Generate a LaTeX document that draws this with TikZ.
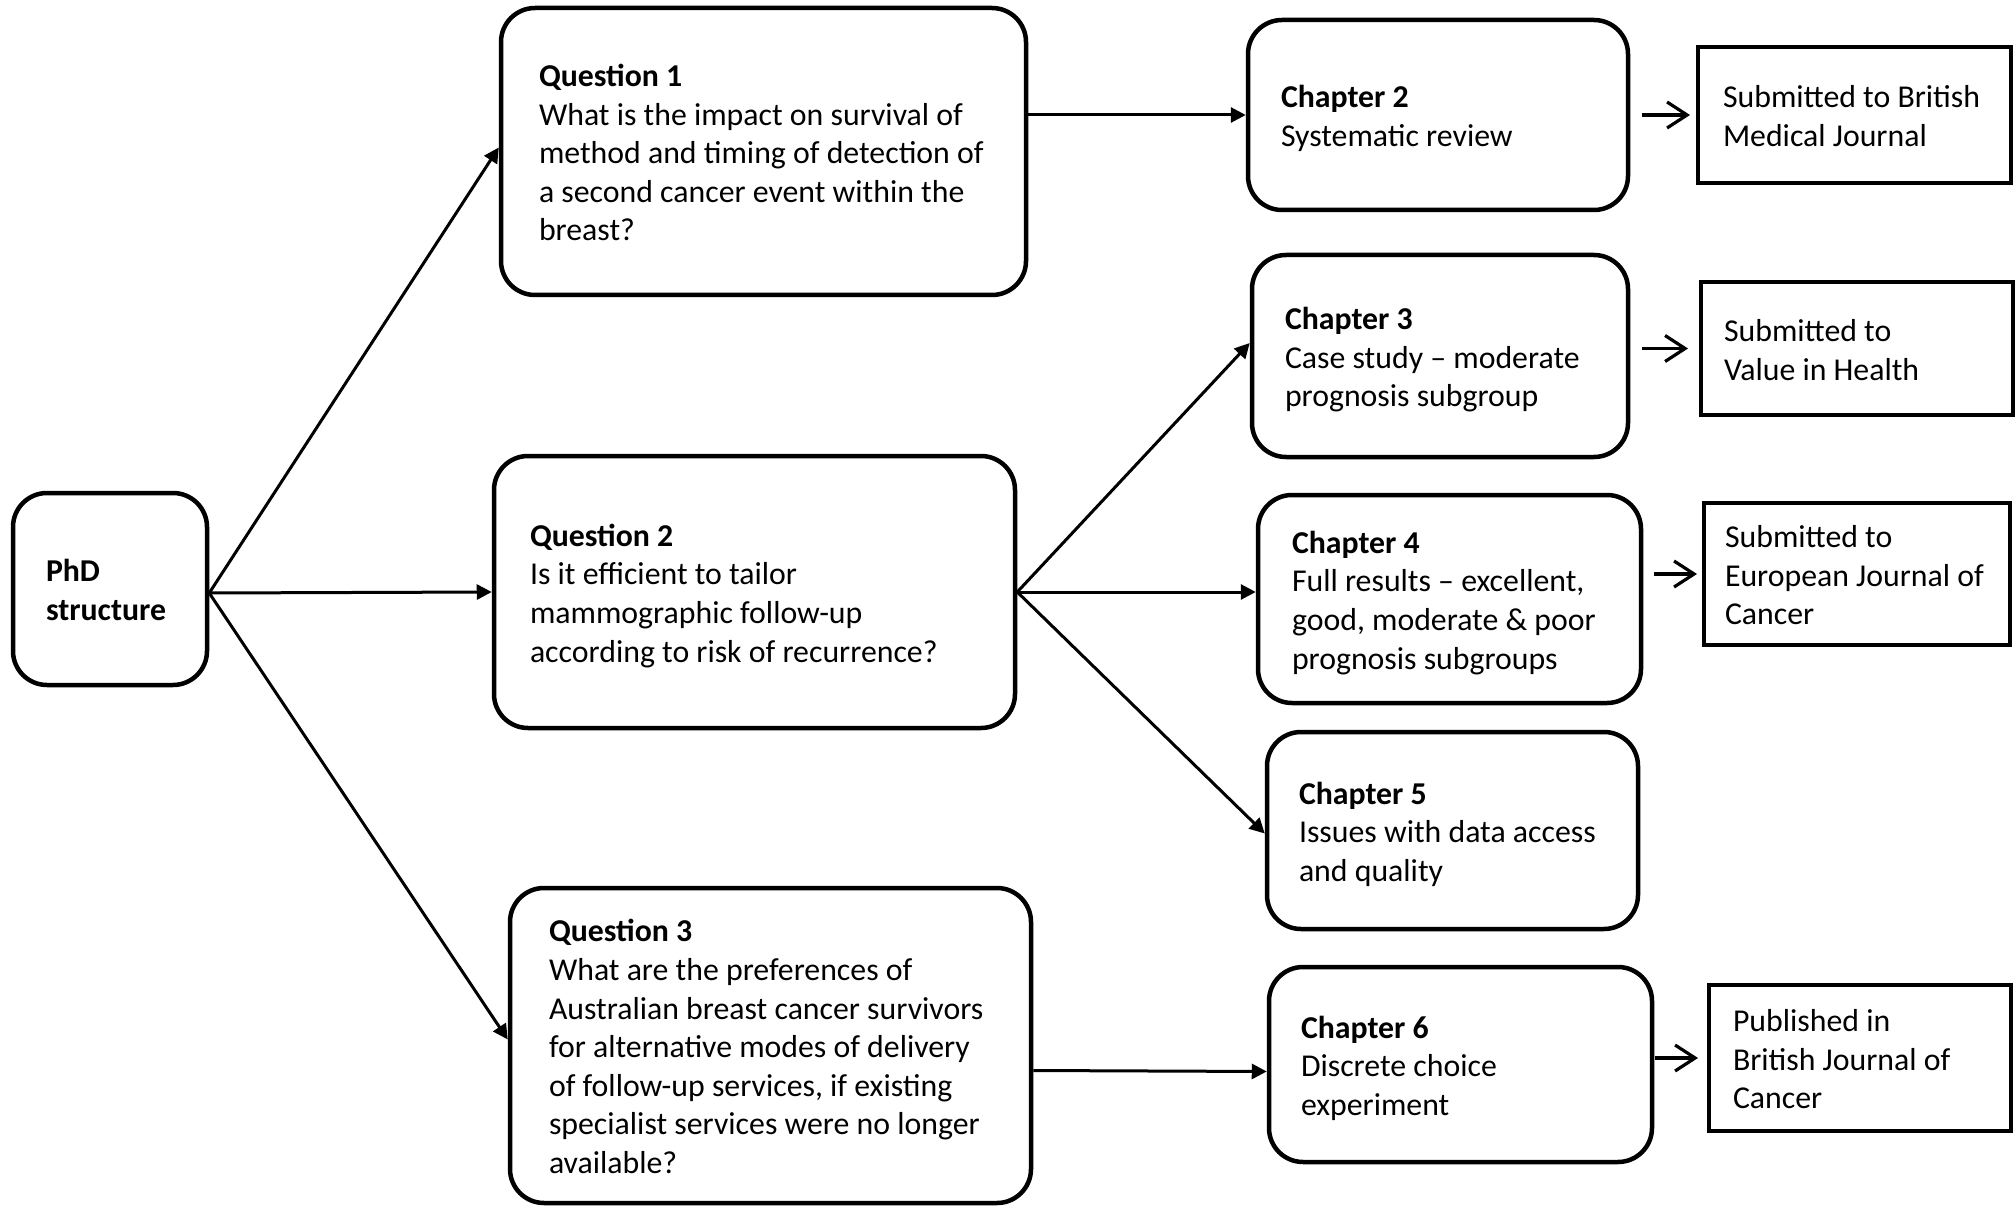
\documentclass[tikz,border=0pt]{standalone}
\usepackage{fontspec}
\setmainfont{Carlito}
\usetikzlibrary{arrows.meta}
\newcommand{\bxt}[2]{\makebox[#1pt][l]{\raisebox{-4.5pt}[\height][\depth]{\begin{tabular}{@{}l@{}}#2\end{tabular}}}}
\tikzset{
  rbox/.style={draw, line width=4.5pt, rounded corners=34pt, inner ysep=0pt},
  pbox/.style={draw, line width=4pt, inner ysep=0pt},
  conn/.style={line width=3pt, -{Triangle[length=15pt,width=15pt]}},
  pubarr/.style={line width=3.2pt, -{Straight Barb[length=20pt,width=26pt]}},
}
\begin{document}
\begin{tikzpicture}[x=1pt,y=-1pt,font=\fontsize{31.8}{38.6}\selectfont]
\useasboundingbox (0,0) rectangle (2016,1206);
% W, H, pad -> text width = W-2pad
\node[rbox, minimum width=194pt, minimum height=192pt, inner xsep=33pt] (phd) at (110,589)
  {\bxt{128}{\textbf{PhD}\\\textbf{structure}}};
\node[rbox, minimum width=525pt, minimum height=287pt, inner xsep=38pt] (q1) at (763.5,151.5)
  {\bxt{449}{\textbf{Question 1}\\What is the impact on survival of\\method and timing of detection of\\a second cancer event within the\\breast?}};
\node[rbox, minimum width=521pt, minimum height=272pt, inner xsep=36pt] (q2) at (754.5,592)
  {\bxt{449}{\textbf{Question 2}\\Is it efficient to tailor\\mammographic follow-up\\according to risk of recurrence?}};
\node[rbox, minimum width=521pt, minimum height=315pt, inner xsep=39pt] (q3) at (770.5,1045.5)
  {\bxt{443}{\textbf{Question 3}\\What are the preferences of\\Australian breast cancer survivors\\for alternative modes of delivery\\of follow-up services, if existing\\specialist services were no longer\\available?}};
\node[rbox, minimum width=380pt, minimum height=190pt, inner xsep=33pt] (ch2) at (1438,115)
  {\bxt{314}{\textbf{Chapter 2}\\Systematic review}};
\node[rbox, minimum width=376pt, minimum height=202pt, inner xsep=33pt] (ch3) at (1440,356)
  {\bxt{310}{\textbf{Chapter 3}\\Case study – moderate\\prognosis subgroup}};
\node[rbox, minimum width=383pt, minimum height=208pt, inner xsep=34pt] (ch4) at (1449.5,599)
  {\bxt{315}{\textbf{Chapter 4}\\Full results – excellent,\\good, moderate \& poor\\prognosis subgroups}};
\node[rbox, minimum width=371pt, minimum height=197pt, inner xsep=32pt] (ch5) at (1452.5,830.5)
  {\bxt{307}{\textbf{Chapter 5}\\Issues with data access\\and quality}};
\node[rbox, minimum width=383pt, minimum height=195pt, inner xsep=32pt] (ch6) at (1460.5,1064.5)
  {\bxt{319}{\textbf{Chapter 6}\\Discrete choice\\experiment}};
\node[pbox, minimum width=313pt, minimum height=136pt, inner xsep=25pt] (pub1) at (1854.5,115)
  {\bxt{263}{Submitted to British\\Medical Journal}};
\node[pbox, minimum width=312pt, minimum height=133pt, inner xsep=23pt] (pub2) at (1857,348.5)
  {\bxt{266}{Submitted to\\Value in Health}};
\node[pbox, minimum width=306pt, minimum height=142pt, inner xsep=21pt] (pub3) at (1857,574)
  {\bxt{264}{Submitted to\\European Journal of\\Cancer}};
\node[pbox, minimum width=302pt, minimum height=146pt, inner xsep=24pt] (pub4) at (1860,1058)
  {\bxt{254}{Published in\\British Journal of\\Cancer}};
% connectors
\draw[conn] ([yshift=-4pt]phd.east) -- ([yshift=4pt]q1.west);
\draw[conn] ([yshift=-4pt]phd.east) -- (q2.west);
\draw[conn] ([yshift=-4pt]phd.east) -- ([yshift=6pt]q3.west);
\draw[conn] (q1.east |- ch2.west) -- (ch2.west);
\draw[conn] (q2.east) -- ([yshift=13pt]ch3.west);
\draw[conn] (q2.east) -- (q2.east -| ch4.west);
\draw[conn] (q2.east) -- ([yshift=-3pt]ch5.west);
\draw[conn] ([yshift=-25pt]q3.east) -- ([yshift=-7pt]ch6.west);
% small arrows
\draw[pubarr, shorten <=12pt, shorten >=6pt] (ch2.east) -- (pub1.west);
\draw[pubarr, shorten <=12pt, shorten >=11pt] (ch3.east |- pub2.west) -- (pub2.west);
\draw[pubarr, shorten <=11pt, shorten >=5pt] (ch4.east |- pub3.west) -- (pub3.west);
\draw[pubarr, shorten <=1pt, shorten >=9pt] (ch6.east |- pub4.west) -- (pub4.west);
\end{tikzpicture}
\end{document}
